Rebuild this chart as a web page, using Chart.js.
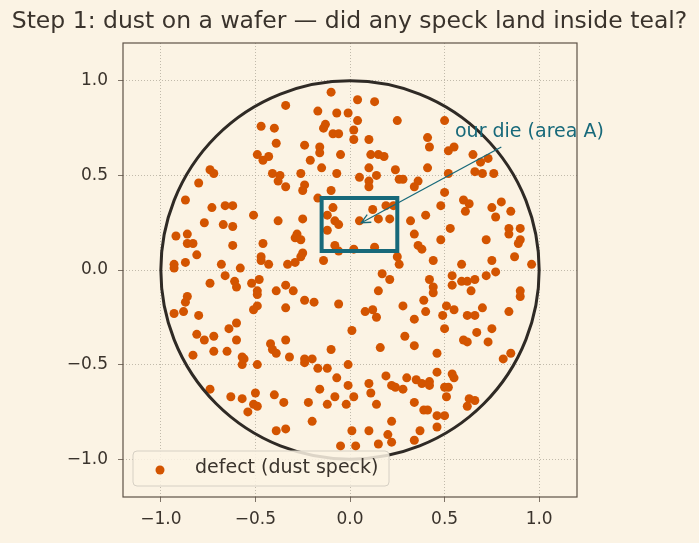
<!DOCTYPE html>
<html>
<head>
<meta charset="utf-8">
<script src="https://cdn.jsdelivr.net/npm/chart.js@4.4.0/dist/chart.umd.min.js"></script>
<style>
  html, body { margin: 0; background: #fbf3e4; }
  canvas { display: block; }
</style>
</head>
<body>
<canvas id="waferChart" width="699" height="543"></canvas>
<script>
// defect specks
const defectX = [
  -0.34,-0.47,-0.40,-0.39,-0.49,-0.46,-0.43,-0.74,-0.72,-0.41,-0.37,-0.38,-0.34,-0.80,-0.87,-0.66,-0.62,-0.73,
  -0.10,0.04,0.13,-0.17,-0.07,-0.01,0.04,0.25,-0.14,-0.13,0.02,-0.09,-0.06,0.02,0.10,-0.24,-0.16,-0.16,-0.05,0.11,0.15,0.18,
  -0.21,-0.15,0.10,0.24,-0.26,-0.07,0.05,0.14,0.26,0.28,0.10,0.10,-0.24,-0.25,-0.10,-0.17,0.34,0.19,0.23,
  0.50,0.41,0.42,0.52,0.55,0.65,0.69,0.73,0.41,0.52,0.66,0.70,0.76,0.36,0.50,0.48,0.60,0.63,0.80,0.75,0.85,
  -0.51,-0.38,-0.77,-0.67,-0.62,-0.92,-0.86,-0.86,-0.83,-0.62,-0.46,-0.81,-0.47,-0.47,-0.43,-0.87,-0.93,-0.93,-0.68,-0.58,
  -0.66,-0.48,-0.74,-0.61,-0.60,-0.52,-0.49,-0.49,-0.39,-0.34,-0.86,-0.87,-0.88,-0.93,-0.49,-0.51,-0.34,-0.80,-0.60,-0.64,-0.81,-0.72,
  -0.09,-0.12,-0.08,-0.06,-0.25,-0.12,0.05,0.12,0.15,0.21,0.32,0.34,-0.28,-0.29,-0.26,-0.08,-0.06,0.02,0.13,-0.25,-0.26,0.25,0.26,
  -0.14,-0.29,-0.33,0.17,0.21,-0.30,0.15,-0.24,-0.19,-0.06,0.28,0.12,0.08,0.14,0.34,0.01,0.29,
  0.61,0.77,0.40,0.53,0.84,0.84,0.90,0.90,0.89,0.48,0.72,0.36,0.38,0.87,0.75,0.44,0.59,0.96,0.77,0.72,0.54,0.42,0.44,0.44,
  0.54,0.59,0.62,0.66,0.64,0.90,0.90,0.39,0.51,0.70,0.40,0.55,0.49,0.62,0.66,0.84,0.50,0.67,0.75,
  -0.77,-0.60,-0.34,-0.42,-0.41,-0.39,-0.83,-0.72,-0.65,-0.57,-0.56,-0.57,-0.49,-0.74,-0.63,-0.57,-0.50,-0.40,-0.35,-0.51,-0.49,-0.54,-0.39,-0.34,
  -0.10,0.16,0.34,-0.32,-0.24,-0.20,-0.24,-0.17,-0.12,-0.01,-0.07,0.19,0.30,-0.01,0.10,0.11,0.22,0.24,0.28,-0.16,-0.08,0.02,-0.22,-0.12,-0.02,0.14,0.34,
  -0.20,0.22,0.01,0.10,0.20,0.22,0.15,0.03,-0.05,0.34,
  0.60,0.62,0.73,0.46,0.81,0.85,0.46,0.54,0.55,0.35,0.38,0.42,0.42,0.50,0.52,0.51,0.63,0.66,0.62,0.39,0.41,0.46,0.50,0.46,0.37
];
const defectY = [
  0.87,0.76,0.75,0.67,0.61,0.58,0.60,0.53,0.51,0.51,0.50,0.47,0.44,0.46,0.37,0.34,0.34,0.33,
  0.94,0.90,0.89,0.84,0.83,0.83,0.79,0.79,0.75,0.77,0.74,0.72,0.72,0.69,0.69,0.66,0.65,0.62,0.61,0.61,0.61,0.60,
  0.58,0.54,0.54,0.53,0.51,0.51,0.49,0.50,0.48,0.48,0.47,0.44,0.45,0.42,0.42,0.38,0.44,0.34,0.34,
  0.79,0.70,0.65,0.63,0.65,0.61,0.57,0.59,0.54,0.51,0.52,0.51,0.51,0.47,0.41,0.34,0.37,0.35,0.36,0.33,0.31,
  0.29,0.26,0.25,0.24,0.23,0.18,0.19,0.14,0.14,0.13,0.14,0.08,0.07,0.05,0.03,0.04,0.03,0.01,0.03,0.01,
  -0.03,-0.05,-0.07,-0.06,-0.09,-0.07,-0.11,-0.13,-0.11,-0.08,-0.14,-0.17,-0.22,-0.23,-0.19,-0.21,-0.20,-0.24,-0.28,-0.31,-0.34,-0.35,
  0.33,0.29,0.26,0.24,0.27,0.21,0.26,0.32,0.27,0.27,0.26,0.19,0.19,0.17,0.16,0.13,0.10,0.11,0.12,0.09,0.07,0.07,0.03,
  0.05,0.04,0.03,-0.02,-0.05,-0.11,-0.11,-0.16,-0.17,-0.18,-0.19,-0.21,-0.22,-0.25,-0.26,-0.32,-0.35,
  0.31,0.28,0.29,0.22,0.22,0.19,0.22,0.16,0.14,0.16,0.16,0.13,0.11,0.07,0.05,0.05,0.03,0.03,-0.01,-0.03,-0.03,-0.05,-0.09,-0.12,
  -0.08,-0.06,-0.06,-0.05,-0.11,-0.11,-0.14,-0.16,-0.19,-0.20,-0.22,-0.21,-0.24,-0.24,-0.24,-0.22,-0.31,-0.33,-0.31,
  -0.37,-0.37,-0.37,-0.39,-0.42,-0.44,-0.45,-0.43,-0.43,-0.46,-0.47,-0.50,-0.50,-0.63,-0.67,-0.68,-0.65,-0.66,-0.70,-0.71,-0.72,-0.75,-0.85,-0.84,
  -0.42,-0.41,-0.40,-0.46,-0.47,-0.47,-0.49,-0.52,-0.52,-0.50,-0.57,-0.56,-0.57,-0.61,-0.60,-0.65,-0.61,-0.62,-0.63,-0.63,-0.67,-0.67,-0.70,-0.71,-0.71,-0.71,-0.70,
  -0.80,-0.80,-0.85,-0.85,-0.87,-0.91,-0.92,-0.93,-0.93,-0.90,
  -0.37,-0.38,-0.38,-0.44,-0.47,-0.44,-0.54,-0.55,-0.57,-0.58,-0.60,-0.59,-0.61,-0.62,-0.62,-0.67,-0.68,-0.69,-0.72,-0.74,-0.74,-0.77,-0.77,-0.83,-0.85
];

// our die (teal box) corners
const dieX = [-0.15, 0.25, 0.25, -0.15, -0.15];
const dieY = [0.10, 0.10, 0.38, 0.38, 0.10];
const waferRadius = 1.0;
const tickValues = [-1.0, -0.5, 0.0, 0.5, 1.0];
const axisMin = -1.2, axisMax = 1.2;

const BG = '#fbf3e4';
const INK = '#3a332c';
const SPINE = '#5e5246';
const ORANGE = '#d35400';
const TEAL = '#17697a';
const FONT = "'DejaVu Sans', sans-serif";

const fmt = v => (v < 0 ? '\u2212' : '') + Math.abs(v).toFixed(1);

const bgPlugin = {
  id: 'bg',
  beforeDraw(chart) {
    const c = chart.ctx;
    c.save(); c.fillStyle = BG; c.fillRect(0, 0, chart.width, chart.height); c.restore();
  }
};

const waferPlugin = {
  id: 'wafer',
  afterDatasetsDraw(chart) {
    const c = chart.ctx, xs = chart.scales.x, ys = chart.scales.y, a = chart.chartArea;
    // wafer outline
    const cx = xs.getPixelForValue(0), cy = ys.getPixelForValue(0);
    const r = xs.getPixelForValue(waferRadius) - cx;
    c.save();
    c.strokeStyle = '#2f2a25'; c.lineWidth = 3;
    c.beginPath(); c.arc(cx, cy, r, 0, Math.PI * 2); c.stroke();
    // die box on top
    c.strokeStyle = TEAL; c.lineWidth = 4; c.lineJoin = 'miter';
    c.beginPath();
    dieX.forEach((x, i) => {
      const px = xs.getPixelForValue(x), py = ys.getPixelForValue(dieY[i]);
      i ? c.lineTo(px, py) : c.moveTo(px, py);
    });
    c.closePath(); c.stroke();
    // annotation arrow
    const tx = xs.getPixelForValue(0.80), ty = ys.getPixelForValue(0.65);
    const hx = xs.getPixelForValue(0.06), hy = ys.getPixelForValue(0.25);
    c.lineWidth = 1.3;
    c.beginPath(); c.moveTo(tx, ty); c.lineTo(hx, hy); c.stroke();
    const ang = Math.atan2(ty - hy, tx - hx), L = 10, w = 0.45;
    c.beginPath();
    c.moveTo(hx + L * Math.cos(ang + w), hy + L * Math.sin(ang + w));
    c.lineTo(hx, hy);
    c.lineTo(hx + L * Math.cos(ang - w), hy + L * Math.sin(ang - w));
    c.stroke();
    c.fillStyle = TEAL; c.font = '19px ' + FONT;
    c.textAlign = 'left'; c.textBaseline = 'middle';
    c.fillText('our die (area A)', xs.getPixelForValue(0.555), ys.getPixelForValue(0.73));
    // frame
    c.strokeStyle = SPINE; c.lineWidth = 1.2;
    c.strokeRect(a.left, a.top, a.right - a.left, a.bottom - a.top);
    // title
    c.fillStyle = INK; c.font = '23.5px ' + FONT;
    c.textAlign = 'center'; c.textBaseline = 'middle';
    c.fillText('Step 1: dust on a wafer \u2014 did any speck land inside teal?', chart.width / 2, 22);
    // legend
    const lx = a.left + 10, ly = a.bottom - 46, lw = 256, lh = 35;
    c.fillStyle = 'rgba(251,243,228,0.85)'; c.strokeStyle = '#d6d0c4'; c.lineWidth = 1;
    c.beginPath(); c.roundRect(lx, ly, lw, lh, 4); c.fill(); c.stroke();
    c.fillStyle = ORANGE;
    c.beginPath(); c.arc(lx + 27, ly + 19, 4.5, 0, Math.PI * 2); c.fill();
    c.fillStyle = INK; c.font = '19px ' + FONT; c.textAlign = 'left';
    c.fillText(chart.data.datasets[0].label, lx + 62, ly + 17);
    c.restore();
  }
};

const axisOpts = (isX) => ({
  type: 'linear', min: axisMin, max: axisMax,
  afterBuildTicks: s => { s.ticks = tickValues.map(v => ({ value: v })); },
  afterFit: s => { if (isX) s.height = 46; else s.width = 123; },
  border: { display: false, dash: [1, 2] },
  grid: { color: '#b3ab9c', lineWidth: 0.8, tickColor: SPINE, tickLength: 5, tickBorderDash: [] },
  ticks: { color: INK, font: { family: FONT, size: 17 }, padding: isX ? 7 : 10, callback: v => fmt(v) }
});

new Chart(document.getElementById('waferChart'), {
  type: 'scatter',
  data: {
    datasets: [{
      label: 'defect (dust speck)',
      data: defectX.map((x, i) => ({ x: x, y: defectY[i] })),
      backgroundColor: ORANGE, borderWidth: 0, pointRadius: 4.5
    }]
  },
  options: {
    responsive: false, animation: false,
    layout: { padding: { top: 43, right: 122, left: 0, bottom: 0 } },
    plugins: { legend: { display: false }, tooltip: { enabled: false } },
    scales: { x: axisOpts(true), y: axisOpts(false) }
  },
  plugins: [bgPlugin, waferPlugin]
});
</script>
</body>
</html>
